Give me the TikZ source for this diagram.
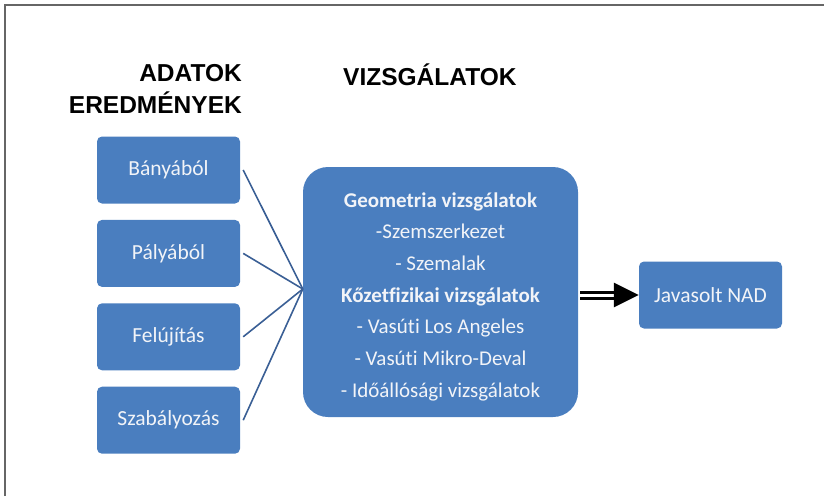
\documentclass[tikz,border=0pt]{standalone}
\usepackage{fontspec}
\usepackage{xcolor}
\usetikzlibrary{arrows.meta, positioning}
\newfontfamily\headfont{Liberation Sans}
\newfontfamily\boxfont[Ligatures=NoCommon]{Carlito}
\definecolor{boxblue}{HTML}{4A7EBF}
\definecolor{linkblue}{HTML}{3A5F95}
\definecolor{boxtext}{HTML}{F2F4F8}

\begin{document}
\begin{tikzpicture}[x=1pt, y=-1pt,
  box/.style={rectangle, rounded corners=5pt, fill=boxblue, text=boxtext,
    minimum width=143pt, minimum height=67pt, inner sep=0pt,
    font=\boxfont\fontsize{21.5}{25}\selectfont},
  link/.style={linkblue, line width=1.6pt},
  head/.style={font=\headfont\bfseries\fontsize{24.5}{32}\selectfont, inner sep=0pt}]
  \useasboundingbox (0, 0) rectangle (824, 496);
  \draw[gray!80!black, line width=1.5pt] (5, 496) -- (5, 5) -- (824, 5);
  % headings
  \node[head, align=right, anchor=north east] (adatok) at (242, 64) {ADATOK\\EREDMÉNYEK};
  \node[head, anchor=north west] (vizsgcim) at (343, 64) {VIZSGÁLATOK};
  % input boxes
  \node[box] (banya) at (168.5, 170) {Bányából};
  \node[box, below=16pt of banya] (palya) {Pályából};
  \node[box, below=16pt of palya] (felujitas) {Felújítás};
  \node[box, below=16pt of felujitas] (szabaly) {Szabályozás};
  % central box
  \node[box, rounded corners=25pt, minimum width=275pt, minimum height=250pt,
        align=center, font=\boxfont\fontsize{21}{31.7}\selectfont] (vizsg) at (440.5, 292)
    {\rule{0pt}{24pt}\textbf{Geometria vizsgálatok}\\-Szemszerkezet\\- Szemalak\\\textbf{Kőzetfizikai vizsgálatok}\\
     - Vasúti Los Angeles\\- Vasúti Mikro-Deval\\- Időállósági vizsgálatok};
  \node[box] (nad) at (710.5, 295) {Javasolt NAD};
  % connectors
  \foreach \src in {banya, palya, felujitas, szabaly}
    \draw[link] ([xshift=3pt]\src.east) -- ([yshift=3pt]vizsg.west);
  \draw[black, double, double distance=3pt, line width=3pt,
        -{Triangle[length=25pt, width=24pt]}, shorten <=2pt] (vizsg.east |- nad.west) -- (nad.west);
\end{tikzpicture}
\end{document}
